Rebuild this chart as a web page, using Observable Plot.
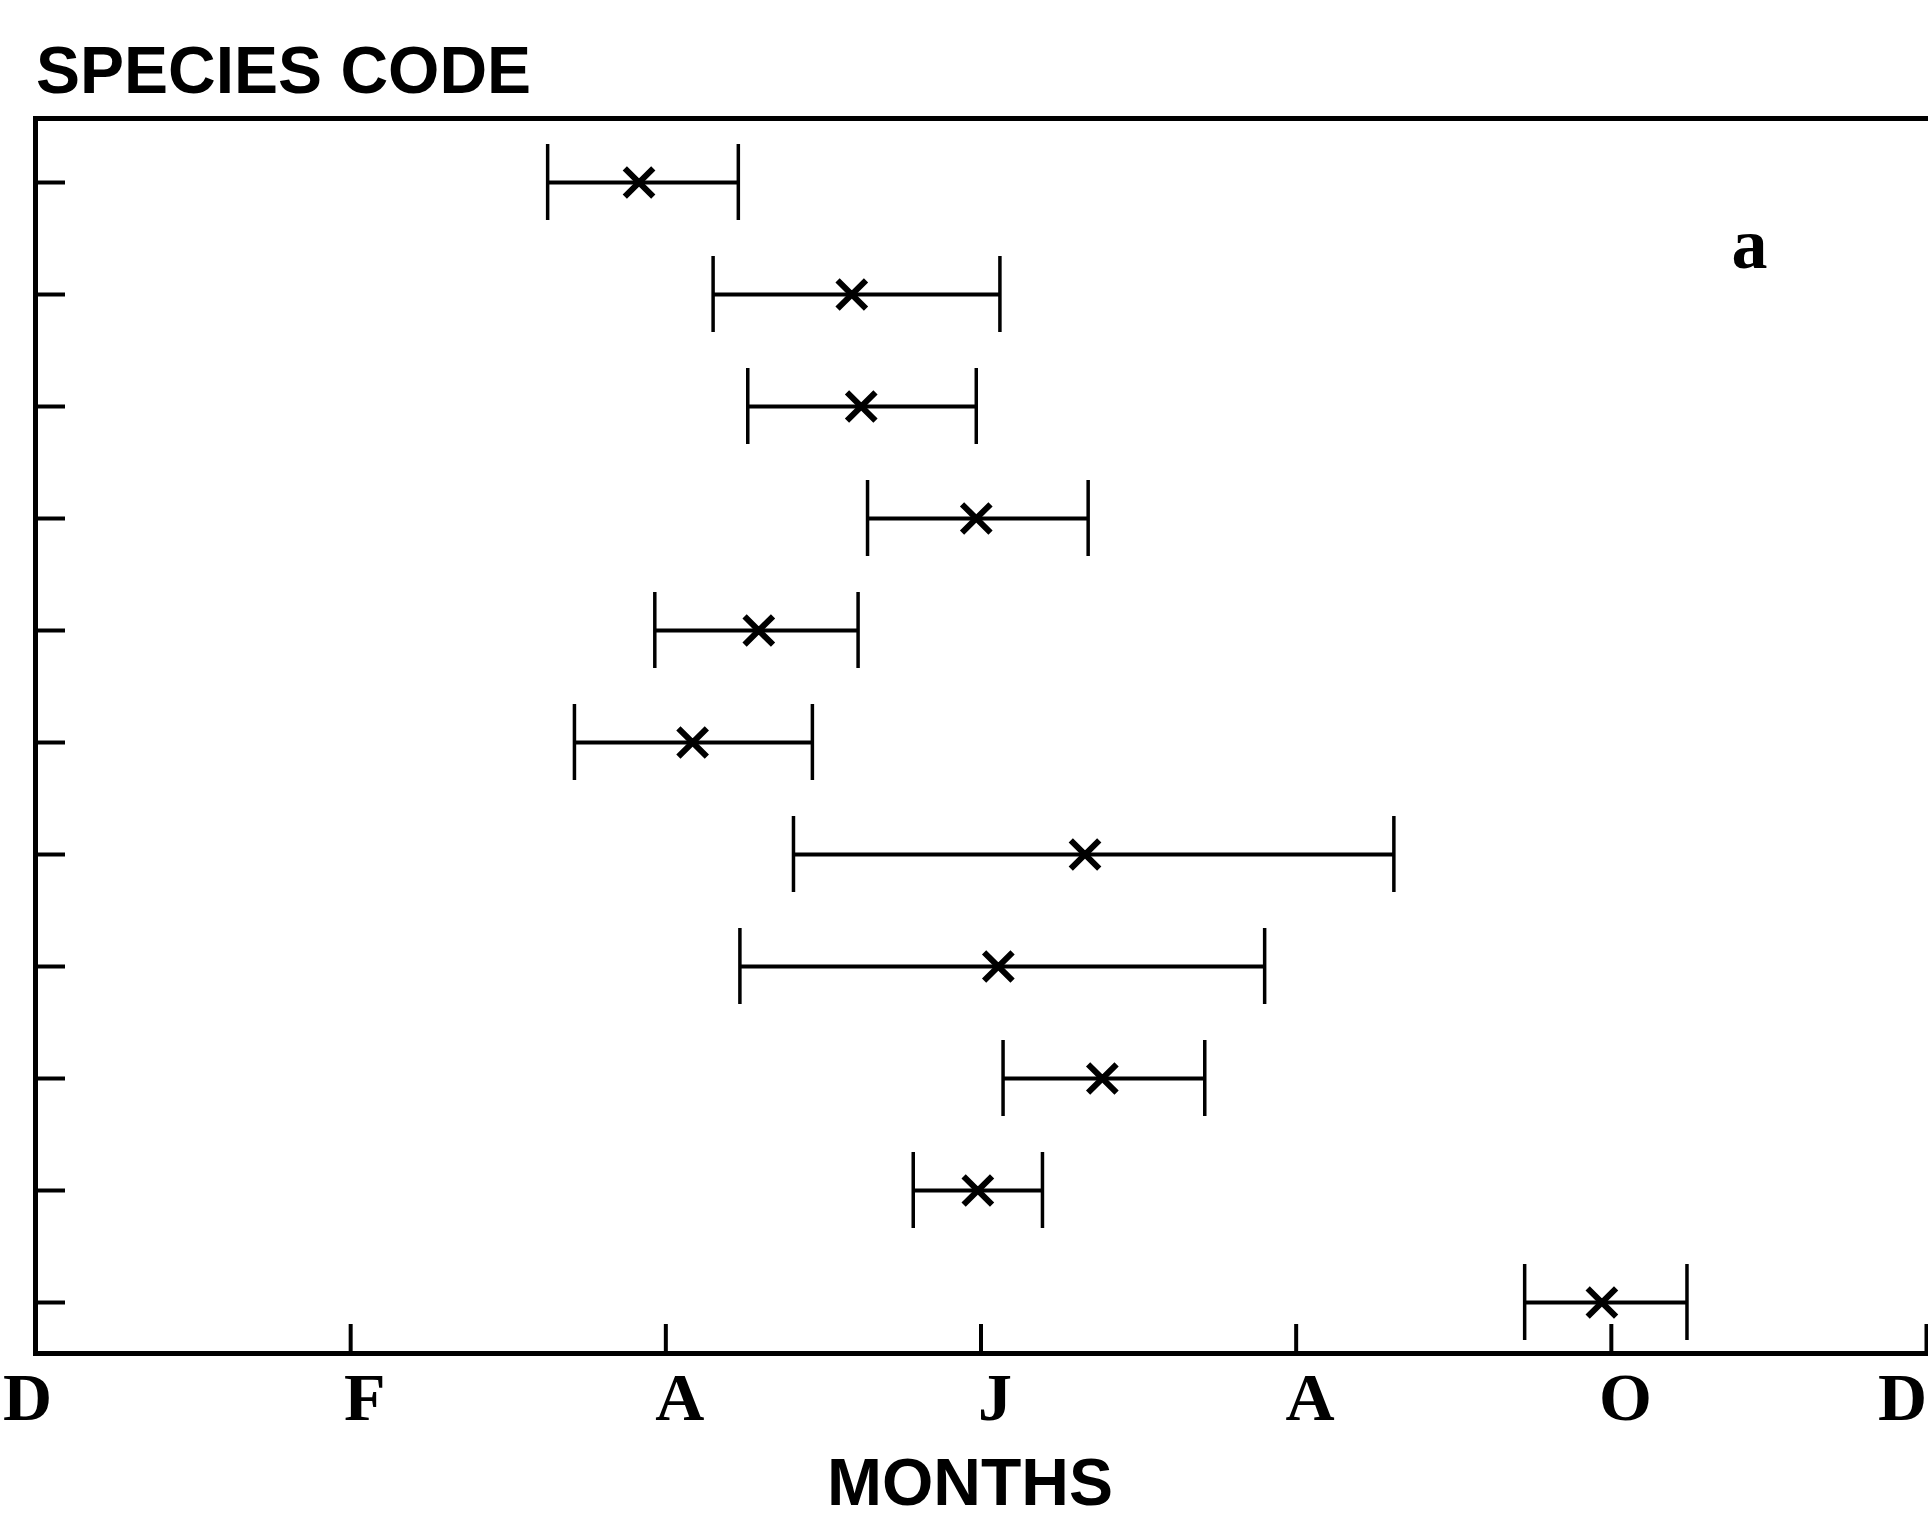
<!DOCTYPE html>
<html>
<head>
<meta charset="utf-8">
<script src="https://cdn.jsdelivr.net/npm/d3@7"></script>
<script src="https://cdn.jsdelivr.net/npm/@observablehq/plot@0.6"></script>
<style>
  html, body { margin: 0; padding: 0; background: #fff; overflow: hidden; }
  #wrap { position: relative; width: 1928px; height: 1520px; background: #fff; }
  .title, .caption {
    position: absolute;
    font-family: "Liberation Sans", Arial, sans-serif;
    font-weight: bold;
    font-size: 66px;
    line-height: 60px;
    color: #000;
    white-space: nowrap;
  }
  .title { left: 36px; top: 40px; }
  .caption { left: 0; width: 1940px; text-align: center; top: 1452px; }
  #chart { position: absolute; left: 0; top: 104px; }
</style>
</head>
<body>
<div id="wrap">
  <div class="title">SPECIES CODE</div>
  <div id="chart"></div>
  <div class="caption">MONTHS</div>
</div>
<script>
// Species (unlabelled rows, top to bottom)
const species = ["1", "2", "3", "4", "5", "6", "7", "8", "9", "10", "11"];
// Months counted from 1 December (0) to the next 1 December (12)
const startMonth = [3.25, 4.30, 4.52, 5.28, 3.93, 3.42, 4.81, 4.47, 6.14, 5.57, 9.45];
const meanMonth  = [3.83, 5.18, 5.24, 5.97, 4.59, 4.17, 6.66, 6.11, 6.77, 5.98, 9.94];
const endMonth   = [4.46, 6.12, 5.97, 6.68, 5.22, 4.93, 8.62, 7.80, 7.42, 6.39, 10.48];
const monthTicks  = [0, 2, 4, 6, 8, 10, 12];
const monthLabels = ["D", "F", "A", "J", "A", "O", "D"];
const panelLabel = "a";

const rows = species.map((s, i) => ({species: s, start: startMonth[i], mean: meanMonth[i], end: endMonth[i]}));

const serif = "'Liberation Serif', 'Times New Roman', serif";
const labelOf = d => monthLabels[monthTicks.indexOf(d)];
const labelStyle = {anchor: "bottom", tickSize: 0, tickPadding: 18, tickFormat: labelOf,
  fontFamily: serif, fontSize: 68, fontWeight: "bold"};

const chart = Plot.plot({
  width: 1928,
  height: 1336,
  marginTop: 14,
  marginBottom: 87,
  marginLeft: 35,
  marginRight: 2,
  style: {background: "white", color: "black"},
  x: {type: "linear", domain: [0, 12], label: null},
  y: {type: "band", domain: species, padding: 0, insetTop: 7, insetBottom: -5, label: null},
  marks: [
    Plot.frame({anchor: "top", strokeWidth: 5}),
    Plot.frame({anchor: "left", strokeWidth: 5}),
    Plot.frame({anchor: "bottom", strokeWidth: 5}),
    Plot.axisY({anchor: "left", tickSize: -30, strokeWidth: 4, tickFormat: () => ""}),
    Plot.axisX({anchor: "bottom", ticks: monthTicks, tickSize: -29, strokeWidth: 4, tickFormat: () => ""}),
    Plot.axisX({...labelStyle, ticks: monthTicks.slice(1, -1), dx: 14}),
    Plot.axisX({...labelStyle, ticks: monthTicks.slice(0, 1), dx: -8}),
    Plot.axisX({...labelStyle, ticks: monthTicks.slice(-1), dx: -24}),
    Plot.ruleY(rows, {y: "species", x1: "start", x2: "end", strokeWidth: 4}),
    Plot.tickX(rows, {y: "species", x: "start", strokeWidth: 3.5, insetTop: 18, insetBottom: 18}),
    Plot.tickX(rows, {y: "species", x: "end", strokeWidth: 3.5, insetTop: 18, insetBottom: 18}),
    Plot.dot(rows, {y: "species", x: "mean", symbol: "times", r: 13, stroke: "black", strokeWidth: 6}),
    Plot.text([panelLabel], {
      frameAnchor: "top-right", dx: -159, dy: 98, text: d => d,
      fontFamily: serif, fontSize: 72, fontWeight: "bold"
    })
  ]
});
document.getElementById("chart").appendChild(chart);
</script>
</body>
</html>
